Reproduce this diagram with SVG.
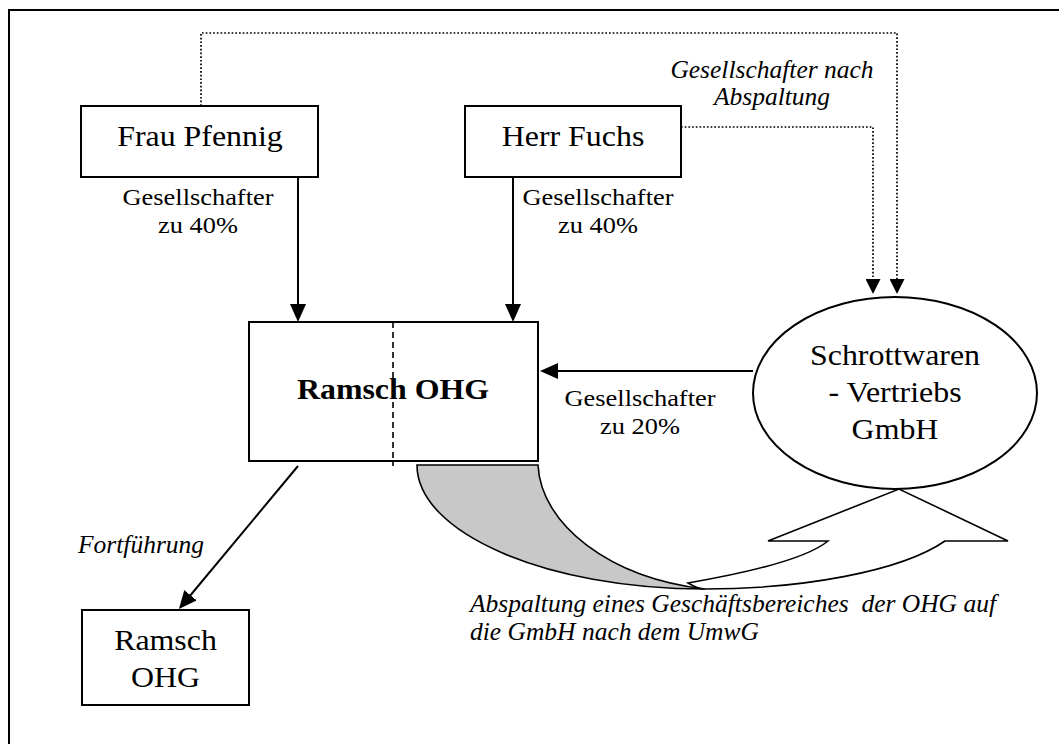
<svg xmlns="http://www.w3.org/2000/svg" width="1059" height="744" viewBox="0 0 1059 744">
  <style>
    .box { fill: #fff; stroke: #000; stroke-width: 2; }
    .ln { fill: none; stroke: #000; stroke-width: 2; }
    .dot { fill: none; stroke: #000; stroke-width: 1.7; stroke-dasharray: 1.7 2; }
    .t { font-family: "Liberation Serif", "Times New Roman", serif; fill: #000; text-anchor: middle; }
    .big { font-size: 29px; }
    .sm { font-size: 24px; }
    .it { font-style: italic; font-size: 25.5px; }
    .b { font-weight: bold; }
  </style>
  <defs>
    <marker id="ah" viewBox="0 0 18 16" refX="14" refY="8" markerWidth="18" markerHeight="16" markerUnits="userSpaceOnUse" orient="auto">
      <path d="M0,0 L18,8 L0,16 Z" fill="#000"/>
    </marker>
    <marker id="ahd" viewBox="0 0 15 15" refX="13" refY="7.5" markerWidth="15" markerHeight="15" markerUnits="userSpaceOnUse" orient="auto">
      <path d="M0,0 L15,7.5 L0,15 Z" fill="#000"/>
    </marker>
  </defs>
  <rect x="0" y="0" width="1059" height="744" fill="#fff"/>
  <path id="frame" d="M9,744 V10 H1059" fill="none" stroke="#000" stroke-width="2"/>

  <g id="curved-arrow">
    <path d="M417,465 H538 C541,525 610,578 705,589 C546,589 417,533 417,465 Z" fill="#c8c8c8" stroke="#000" stroke-width="1.6"/>
    <path d="M688,583 C740,574 805,560 828,541 H768 L899,489 L1008,541 H945 C900,572 800,589 705,589 C698,589 693,586 688,583 Z" fill="#fff" stroke="#000" stroke-width="1.6"/>
  </g>

  <g id="connectors">
    <path class="dot" d="M201,106 V33 H897 V292" marker-end="url(#ahd)"/>
    <path class="dot" d="M681,127 H873 V292" marker-end="url(#ahd)"/>
    <line class="ln" x1="298" y1="177" x2="298" y2="318" marker-end="url(#ah)"/>
    <line class="ln" x1="513" y1="177" x2="513" y2="318" marker-end="url(#ah)"/>
    <line class="ln" x1="753" y1="371" x2="544" y2="371" marker-end="url(#ah)"/>
    <line class="ln" x1="298" y1="466" x2="181.5" y2="606" marker-end="url(#ah)"/>
  </g>

  <g id="pfennig">
    <rect class="box" x="81" y="106" width="237" height="71"/>
    <text class="t big" transform="translate(200,146) scale(1.1,1)">Frau Pfennig</text>
  </g>
  <g id="fuchs">
    <rect class="box" x="465" y="106" width="216" height="71"/>
    <text class="t big" transform="translate(573,146) scale(1.1,1)">Herr Fuchs</text>
  </g>
  <g id="ramsch-main">
    <rect class="box" x="249" y="322" width="289" height="139"/>
    <line x1="393" y1="322" x2="393" y2="466" stroke="#000" stroke-width="1.6" stroke-dasharray="6 4"/>
    <text class="t big b" transform="translate(393,399) scale(1.1,1)">Ramsch OHG</text>
  </g>
  <g id="schrott">
    <ellipse cx="895" cy="393" rx="142" ry="96" fill="#fff" stroke="#000" stroke-width="2"/>
    <text class="t big" transform="translate(895,365) scale(1.1,1)"><tspan x="0" y="0">Schrottwaren</tspan><tspan x="0" y="37">- Vertriebs</tspan><tspan x="0" y="74">GmbH</tspan></text>
  </g>
  <g id="ramsch-new">
    <rect class="box" x="82" y="610" width="167" height="95"/>
    <text class="t big" transform="translate(165.5,650) scale(1.1,1)"><tspan x="0" y="0">Ramsch</tspan><tspan x="0" y="37">OHG</tspan></text>
  </g>

  <g id="labels">
    <text class="t sm" transform="translate(198,205) scale(1.1,1)"><tspan x="0" y="0">Gesellschafter</tspan><tspan x="0" y="28">zu 40%</tspan></text>
    <text class="t sm" transform="translate(598,205) scale(1.1,1)"><tspan x="0" y="0">Gesellschafter</tspan><tspan x="0" y="28">zu 40%</tspan></text>
    <text class="t sm" transform="translate(640,406) scale(1.1,1)"><tspan x="0" y="0">Gesellschafter</tspan><tspan x="0" y="28">zu 20%</tspan></text>
    <text class="t it" x="772" y="78"><tspan x="772" y="78">Gesellschafter nach</tspan><tspan x="772" y="105">Abspaltung</tspan></text>
    <text class="t it" style="text-anchor:start" x="78" y="553">Fortführung</text>
    <text class="t it" style="text-anchor:start;white-space:pre" xml:space="preserve" x="470" y="612"><tspan x="470" y="612">Abspaltung eines Geschäftsbereiches  der OHG auf</tspan><tspan x="470" y="640">die GmbH nach dem UmwG</tspan></text>
  </g>
</svg>
